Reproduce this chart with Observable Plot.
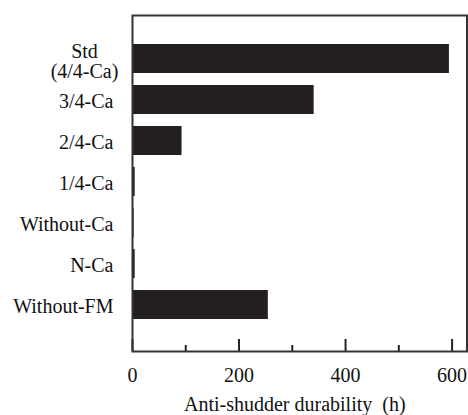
<!DOCTYPE html>
<html><head><meta charset="utf-8">
<script src="https://cdn.jsdelivr.net/npm/d3@7"></script>
<script src="https://cdn.jsdelivr.net/npm/@observablehq/plot@0.6"></script>
<style>body{margin:0;background:#fff}</style>
</head><body><div id="chart"></div>
<script>
const categories = ["Std", "3/4-Ca", "2/4-Ca", "1/4-Ca", "Without-Ca", "N-Ca", "Without-FM"];
const durability = [595, 341, 93, 5, 3, 5, 255];
const stdLabelLines = ["Std", "(4/4-Ca)"];
const majorTicks = [0, 200, 400, 600];
const minorTicks = [100, 300, 500];
const xLabel = "Anti-shudder durability\u00a0\u00a0(h)";

const data = categories.map((c, i) => ({category: c, value: durability[i]}));
const W = 468, H = 415, mt = 15, mb = 64, ml = 132, mr = 1.5;
const plotH = H - mt - mb;
const ink = "#231f20";
const font = "'Liberation Serif', 'Times New Roman', serif";

const chart = Plot.plot({
  width: W, height: H,
  marginTop: mt, marginBottom: mb, marginLeft: ml, marginRight: mr,
  style: {fontFamily: font, fontSize: "20px", background: "#fff", color: "#111"},
  x: {domain: [0, 628], axis: null},
  y: {domain: categories, range: [44, 319], paddingInner: 0.293, paddingOuter: 0, round: false, axis: null},
  marks: [
    Plot.barX(data, {x: "value", y: "category", fill: ink}),
    Plot.tickX(majorTicks, {x: d => d, insetTop: plotH - 12, stroke: "#222", strokeWidth: 2}),
    Plot.tickX(minorTicks, {x: d => d, insetTop: plotH - 6, stroke: "#222", strokeWidth: 2}),
    Plot.axisX(majorTicks, {tickSize: 0, tickPadding: 16, fontSize: 20, label: null, tickFormat: d => String(d)}),
    Plot.axisY(categories.slice(1), {tickSize: 0, tickPadding: 19, fontSize: 20, dy: 2, label: null}),
    Plot.axisY([categories[0]], {tickSize: 0, tickPadding: 48, textAnchor: "middle", tickFormat: () => stdLabelLines.join("\n"), lineHeight: 1.02, dy: 2.5, fontSize: 20, label: null}),
    Plot.text([xLabel], {text: d => d, frameAnchor: "bottom", lineAnchor: "top", dy: 45.5, dx: -5, fontSize: 20}),
    Plot.frame({stroke: "#333", strokeWidth: 2})
  ]
});
document.getElementById("chart").appendChild(chart);
</script>
</body></html>
